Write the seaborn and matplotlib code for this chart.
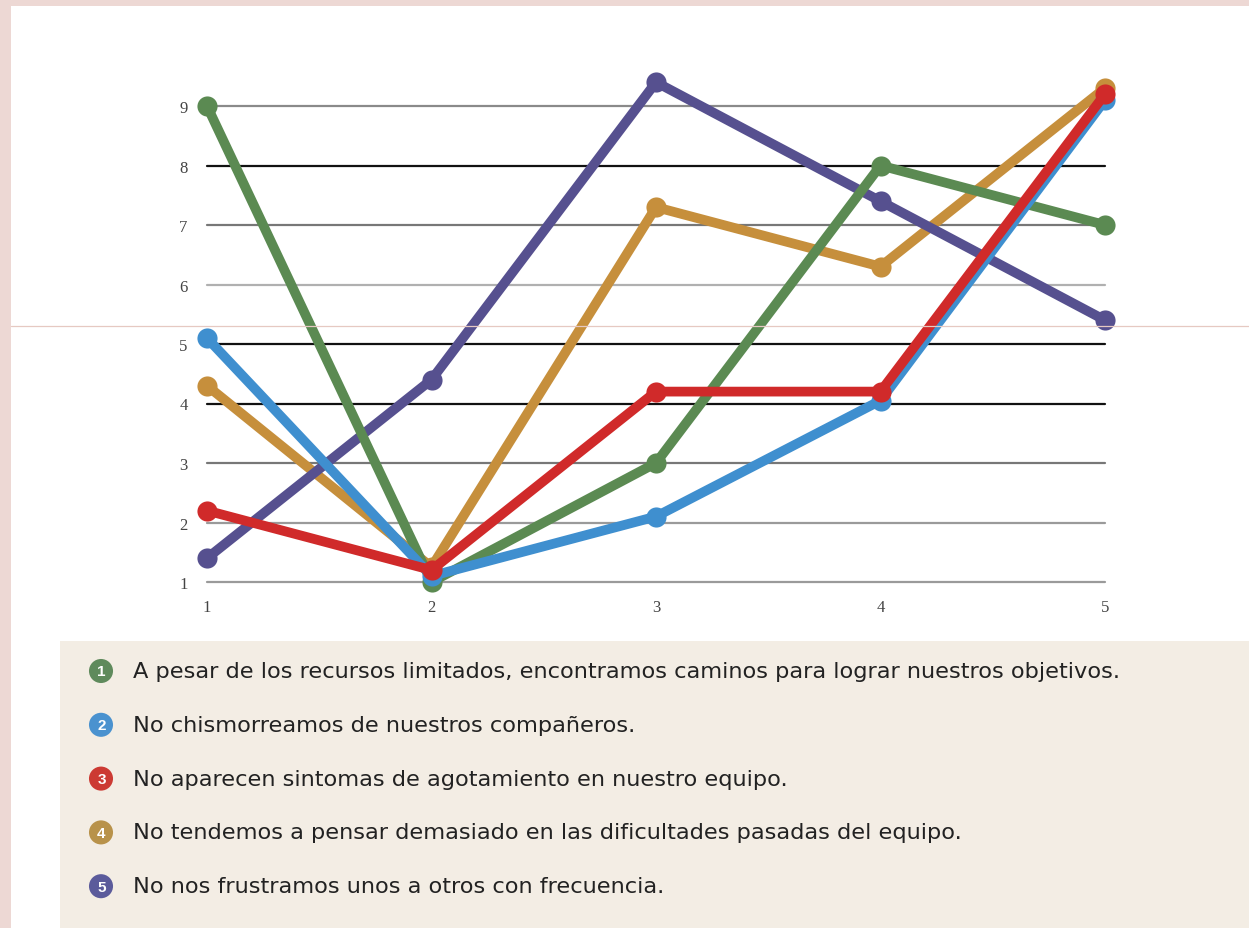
import numpy as np
import pandas as pd
import seaborn as sns
import matplotlib.pyplot as plt
from matplotlib.patches import Rectangle
from matplotlib.lines import Line2D

# ---------------- data ----------------
x_points = [1, 2, 3, 4, 5]
serie1 = [9.0, 1.0, 3.0, 8.0, 7.0]   # green
serie2 = [5.1, 1.1, 2.1, 4.05, 9.1]  # blue
serie3 = [2.2, 1.2, 4.2, 4.2, 9.2]   # red
serie4 = [4.3, 1.25, 7.3, 6.3, 9.3]  # orange
serie5 = [1.4, 4.4, 9.4, 7.4, 5.4]   # purple

labels = [
    "A pesar de los recursos limitados, encontramos caminos para lograr nuestros objetivos.",
    "No chismorreamos de nuestros compañeros.",
    "No aparecen sintomas de agotamiento en nuestro equipo.",
    "No tendemos a pensar demasiado en las dificultades pasadas del equipo.",
    "No nos frustramos unos a otros con frecuencia.",
]
numbers = ["1", "2", "3", "4", "5"]
y_ticks = [1, 2, 3, 4, 5, 6, 7, 8, 9]
x_ticks = [1, 2, 3, 4, 5]

# ---------------- styles ----------------
colors = ["#5b8a52", "#3f8fcf", "#d02a2a", "#c68f3c", "#56508f"]
legend_colors = ["#5f8a5c", "#4a92cf", "#cc3a33", "#b8924a", "#5b5b9b"]
draw_order = [3, 4, 0, 1, 2]  # orange, purple, green, blue, red on top
grid_colors = ["#9a9a9a", "#9a9a9a", "#777777", "#111111", "#111111",
               "#b0b0b0", "#777777", "#111111", "#8a8a8a"]

series = [serie1, serie2, serie3, serie4, serie5]
df = pd.DataFrame({
    "x": np.tile(x_points, len(series)),
    "v": np.concatenate(series),
    "serie": np.repeat(labels, len(x_points)),
})

W, H = 1249, 929
sns.set_theme(style="white")
fig = plt.figure(figsize=(W / 100, H / 100), dpi=100)
fig.patch.set_facecolor("#edd8d4")

# white panel
fig.add_artist(Rectangle((11 / W, 0), 1 - 11 / W, 1 - 7 / H, transform=fig.transFigure,
                         facecolor="white", edgecolor="none", zorder=0))
# beige legend panel
fig.add_artist(Rectangle((60 / W, 0), 1 - 60 / W, 1 - 642 / H, transform=fig.transFigure,
                         facecolor="#f3ede4", edgecolor="none", zorder=0))

# ---------------- chart ----------------
ax = fig.add_axes([207 / W, 1 - 583 / H, (1105 - 207) / W, (583 - 107) / H])
ax.set_facecolor("none")
for s in ax.spines.values():
    s.set_visible(False)

for yv, gc in zip(y_ticks, grid_colors):
    ax.axhline(yv, color=gc, lw=1.6, zorder=1)

for k, i in enumerate(draw_order):
    sub = df[df["serie"] == labels[i]]
    sns.lineplot(data=sub, x="x", y="v", color=colors[i], lw=7, marker="o",
                 markersize=14.5, markeredgewidth=0, legend=False, ax=ax,
                 zorder=3 + k)
for ln in ax.lines:
    ln.set_clip_on(False)
    ln.set_solid_capstyle("round")
    ln.set_solid_joinstyle("round")

ax.set_xlim(1, 5)
ax.set_ylim(1, 9)
ax.set_xticks(x_ticks)
ax.set_yticks(y_ticks)
ax.set_xticklabels([str(t) for t in x_ticks], family="Liberation Serif", fontsize=12, color="#444444")
ax.set_yticklabels([str(t) for t in y_ticks], family="Liberation Serif", fontsize=12, color="#444444")
ax.tick_params(axis="x", length=0, pad=12)
ax.tick_params(axis="y", length=0, pad=14)
ax.set_xlabel("")
ax.set_ylabel("")

# faint scan artifact line
fig.add_artist(Line2D([11 / W, 1], [1 - 327 / H, 1 - 327 / H], transform=fig.transFigure,
                      color="#e6c9c2", lw=0.9, zorder=20))

# ---------------- legend ----------------
lax = fig.add_axes([0, 0, 1, 1])
lax.set_xlim(0, W)
lax.set_ylim(H, 0)
lax.axis("off")
lax.set_facecolor("none")
row0, step = 672, 53.8
for i in range(len(labels)):
    yy = row0 + i * step
    lax.scatter([101], [yy], s=300, color=legend_colors[i], edgecolor="none", zorder=5)
    lax.text(101.5, yy + 0.5, numbers[i], color="white", fontsize=11, fontweight="bold",
             ha="center", va="center", family="Liberation Sans", zorder=6)
    lax.text(133, yy, labels[i], color="#222222", fontsize=16.2, ha="left", va="center",
             family="DejaVu Sans", zorder=6)

fig.savefig("out.png", dpi=100, facecolor=fig.get_facecolor())
